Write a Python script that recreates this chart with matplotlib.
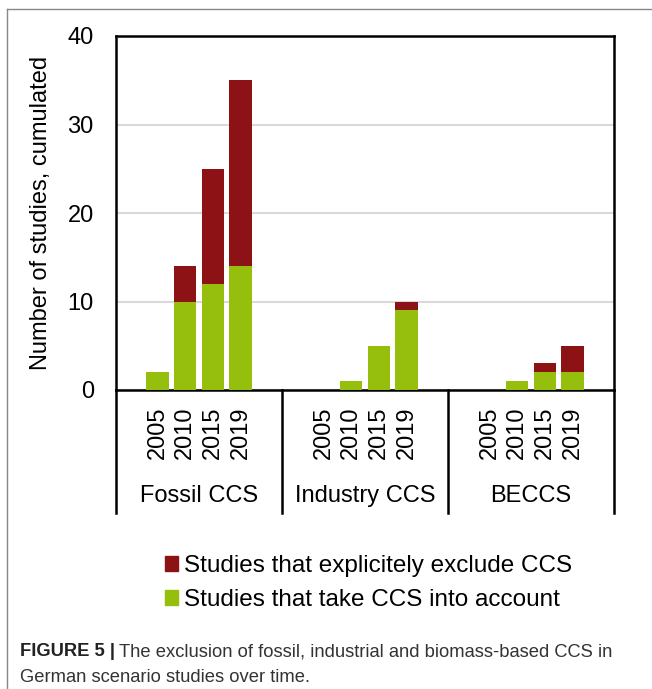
import matplotlib.pyplot as plt
import numpy as np
from matplotlib.lines import Line2D
from matplotlib.patches import Patch

plt.rcParams['font.family'] = ['Liberation Sans', 'DejaVu Sans']

# Dati
groups = ["Fossil CCS", "Industry CCS", "BECCS"]
years = ["2005", "2010", "2015", "2019"]
take_into_account = [
    [2, 10, 12, 14],   # Fossil CCS
    [0, 1, 5, 9],      # Industry CCS
    [0, 1, 2, 2],      # BECCS
]
exclude = [
    [0, 4, 13, 21],
    [0, 0, 0, 1],
    [0, 0, 1, 3],
]
label_exclude = "Studies that explicitely exclude CCS"
label_take = "Studies that take CCS into account"

col_red = '#8C1215'
col_green = '#96BF0D'

fig = plt.figure(figsize=(6.52, 6.89), dpi=100)
ax = fig.add_axes([116/652, 1 - 390/689, 498/652, 354/689])

# 6 slot per gruppo: vuoto, 4 anni, vuoto
positions = []
tick_labels = []
for g in range(len(groups)):
    xs = np.arange(len(years)) + 1 + g * 6
    ax.bar(xs, take_into_account[g], width=0.8, color=col_green, zorder=3)
    ax.bar(xs, exclude[g], width=0.8, bottom=take_into_account[g], color=col_red, zorder=3)
    positions.extend(xs)
    tick_labels.extend(years)

ax.set_xlim(-0.5, 17.5)
ax.set_ylim(0, 40)
ax.set_yticks([0, 10, 20, 30, 40])
ax.yaxis.grid(True, color='#d9d9d9', linewidth=1.5, zorder=0)
ax.tick_params(axis='y', length=0, pad=16, labelsize=17)
ax.set_xticks(positions)
ax.set_xticklabels(tick_labels, rotation=90, fontsize=17)
ax.tick_params(axis='x', length=0, pad=12)
for s in ax.spines.values():
    s.set_linewidth(1.8)
ax.set_ylabel("Number of studies, cumulated", fontsize=17, labelpad=11)

# separatori e nomi dei gruppi sotto l'asse
trans = ax.get_xaxis_transform()
for xsep in [-0.5, 5.5, 11.5, 17.5]:
    ax.plot([xsep, xsep], [0, -0.347], color='black', linewidth=1.8,
            transform=trans, clip_on=False)
for g, name in enumerate(groups):
    ax.text(2.5 + g * 6, -0.30, name, transform=trans, ha='center', va='center',
            fontsize=17)

# legenda
handles = [Patch(color=col_red), Patch(color=col_green)]
fig.legend(handles, [label_exclude, label_take], loc='center left',
           bbox_to_anchor=(143/652, 1 - 583/689), frameon=False, fontsize=17.5,
           handlelength=0.55, handleheight=0.55, handletextpad=0.25, labelspacing=0.5)

# cornice grigia
fig.add_artist(Line2D([7/652, 1], [1 - 9/689, 1 - 9/689], color='#888888', linewidth=1))
fig.add_artist(Line2D([7/652, 7/652], [0, 1 - 9/689], color='#888888', linewidth=1))

# didascalia
cap_size = 13.2
t1 = fig.text(20/652, 1 - 652/689, "FIGURE 5 |", fontsize=cap_size, fontweight='bold',
              va='center', color='#222222')
fig.canvas.draw()
bb = t1.get_window_extent(renderer=fig.canvas.get_renderer())
fig.text(bb.x1 / 652 + 4/652, 1 - 652/689,
         "The exclusion of fossil, industrial and biomass-based CCS in",
         fontsize=cap_size, va='center', color='#333333')
fig.text(20/652, 1 - 677/689, "German scenario studies over time.",
         fontsize=cap_size, va='center', color='#333333')

plt.savefig('out.png', dpi=100)
